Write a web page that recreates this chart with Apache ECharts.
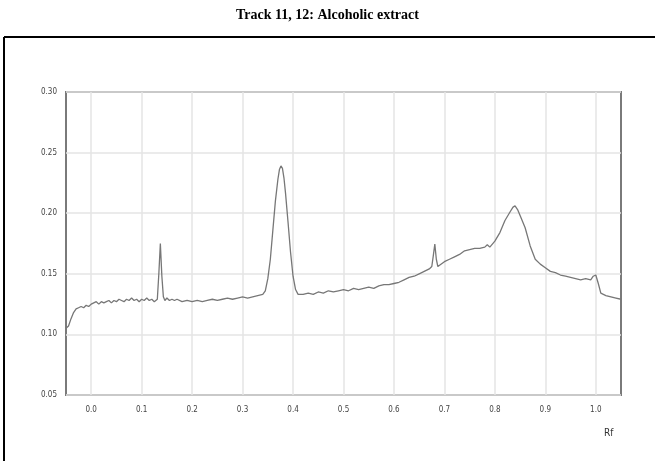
<!DOCTYPE html>
<html>
<head>
<meta charset="utf-8">
<script src="https://cdn.jsdelivr.net/npm/echarts@6/dist/echarts.min.js"></script>
<style>html,body{margin:0;padding:0;background:#fff;}#c{width:655px;height:461px;}</style>
</head>
<body>
<div id="c"></div>
<script>
const titleText = 'Track 11, 12: Alcoholic extract';
const axisName = 'Rf';
const xGridTicks = [0.0, 0.1, 0.2, 0.3, 0.4, 0.5, 0.6, 0.7, 0.8, 0.9, 1.0];
const rf = [
 -0.050,-0.045,-0.040,-0.035,-0.030,-0.025,-0.020,-0.015,-0.010,-0.005,
  0.000, 0.005, 0.010, 0.015, 0.020, 0.025, 0.030, 0.035, 0.040, 0.045,
  0.050, 0.055, 0.060, 0.065, 0.070, 0.075, 0.080, 0.085, 0.090, 0.095,
  0.100, 0.105, 0.110, 0.115, 0.120, 0.125, 0.128, 0.131, 0.134, 0.137,
  0.140, 0.143, 0.146, 0.150, 0.155, 0.160, 0.165, 0.170, 0.180, 0.190,
  0.200, 0.210, 0.220, 0.230, 0.240, 0.250, 0.260, 0.270, 0.280, 0.290,
  0.300, 0.310, 0.320, 0.330, 0.340, 0.345, 0.350, 0.355, 0.360, 0.365,
  0.370, 0.373, 0.376, 0.379, 0.382, 0.385, 0.390, 0.395, 0.400, 0.405, 0.410, 0.420,
  0.430, 0.440, 0.450, 0.460, 0.470, 0.480, 0.490, 0.500, 0.510, 0.520,
  0.530, 0.540, 0.550, 0.560, 0.570, 0.580, 0.590, 0.600, 0.610, 0.620,
  0.630, 0.640, 0.650, 0.660, 0.670, 0.675, 0.678, 0.681, 0.684, 0.687,
  0.690, 0.700, 0.710, 0.720, 0.730, 0.740, 0.750, 0.760, 0.770, 0.780,
  0.785, 0.790, 0.800, 0.810, 0.820, 0.830, 0.836, 0.840, 0.845, 0.850, 0.860,
  0.870, 0.880, 0.890, 0.900, 0.910, 0.920, 0.930, 0.940, 0.950, 0.960,
  0.970, 0.980, 0.990, 0.995, 1.000, 1.005, 1.010, 1.020, 1.030, 1.040,
  1.050
];
const density = [
  0.105, 0.107, 0.113, 0.118, 0.121, 0.122, 0.123, 0.122, 0.124, 0.123,
  0.125, 0.126, 0.127, 0.125, 0.127, 0.126, 0.127, 0.128, 0.126, 0.128,
  0.127, 0.129, 0.128, 0.127, 0.129, 0.128, 0.130, 0.128, 0.129, 0.127,
  0.129, 0.128, 0.130, 0.128, 0.129, 0.127, 0.128, 0.129, 0.150, 0.175,
  0.148, 0.131, 0.128, 0.130, 0.128, 0.129, 0.128, 0.129, 0.127, 0.128,
  0.127, 0.128, 0.127, 0.128, 0.129, 0.128, 0.129, 0.130, 0.129, 0.130,
  0.131, 0.130, 0.131, 0.132, 0.133, 0.136, 0.146, 0.162, 0.186, 0.210,
  0.228, 0.236, 0.239, 0.237, 0.229, 0.217, 0.193, 0.168, 0.148, 0.137, 0.133, 0.133,
  0.134, 0.133, 0.135, 0.134, 0.136, 0.135, 0.136, 0.137, 0.136, 0.138,
  0.137, 0.138, 0.139, 0.138, 0.140, 0.141, 0.141, 0.142, 0.143, 0.145,
  0.147, 0.148, 0.150, 0.152, 0.154, 0.156, 0.165, 0.1745, 0.162, 0.156,
  0.157, 0.160, 0.162, 0.164, 0.166, 0.169, 0.170, 0.171, 0.171, 0.172,
  0.174, 0.172, 0.177, 0.184, 0.194, 0.201, 0.205, 0.206, 0.203, 0.198, 0.188,
  0.173, 0.162, 0.158, 0.155, 0.152, 0.151, 0.149, 0.148, 0.147, 0.146,
  0.145, 0.146, 0.145, 0.148, 0.149, 0.142, 0.134, 0.132, 0.131, 0.130,
  0.129
];

const chart = echarts.init(document.getElementById('c'), null, {renderer: 'canvas'});
const labelFont = {fontFamily: 'Liberation Sans Narrow, DejaVu Sans Condensed, sans-serif', fontSize: 8, color: '#444'};
chart.setOption({
  animation: false,
  backgroundColor: '#fff',
  title: {
    text: titleText, left: 'center', top: 3,
    textStyle: {fontFamily: 'Liberation Serif, Times New Roman, serif', fontWeight: 'bold', fontSize: 14, color: '#000'}
  },
  grid: {left: 66, right: 34, top: 92, bottom: 66, show: true, borderColor: '#7a7a7a', borderWidth: 2, backgroundColor: 'transparent'},
  xAxis: {
    type: 'value', min: -0.05, max: 1.05, interval: 0.05,
    axisLine: {show: false}, axisTick: {show: false}, splitLine: {show: false},
    axisLabel: Object.assign({margin: 11, showMinLabel: false, showMaxLabel: false,
      formatter: function (v) { const k = Math.round(v * 100); return (k % 10 === 0) ? (k / 100).toFixed(1) : ''; }}, labelFont)
  },
  yAxis: {
    type: 'value', min: 0.05, max: 0.30, interval: 0.05,
    axisLine: {show: false}, axisTick: {show: false},
    splitLine: {show: true, lineStyle: {color: '#e4e4e4', width: 1.5}},
    axisLabel: Object.assign({margin: 9, formatter: function (v) { return v.toFixed(2); }}, labelFont)
  },
  graphic: [
    {type: 'line', shape: {x1: 4, y1: 37, x2: 655, y2: 37}, style: {stroke: '#000', lineWidth: 2}},
    {type: 'line', shape: {x1: 4, y1: 37, x2: 4, y2: 461}, style: {stroke: '#000', lineWidth: 2}},
    {type: 'text', left: 604, top: 428, style: {text: axisName, font: '10px Liberation Sans Narrow, DejaVu Sans Condensed, sans-serif', fill: '#333'}}
  ],
  series: [{
    type: 'line',
    data: rf.map((x, i) => [x, density[i]]),
    showSymbol: false, symbol: 'none',
    lineStyle: {color: '#777', width: 1.3},
    z: 3,
    markLine: {
      silent: true, symbol: 'none', label: {show: false}, animation: false,
      lineStyle: {color: '#e4e4e4', width: 1.5, type: 'solid'},
      data: xGridTicks.map(t => ({xAxis: t})),
      z: 1
    }
  }]
});
</script>
</body>
</html>
